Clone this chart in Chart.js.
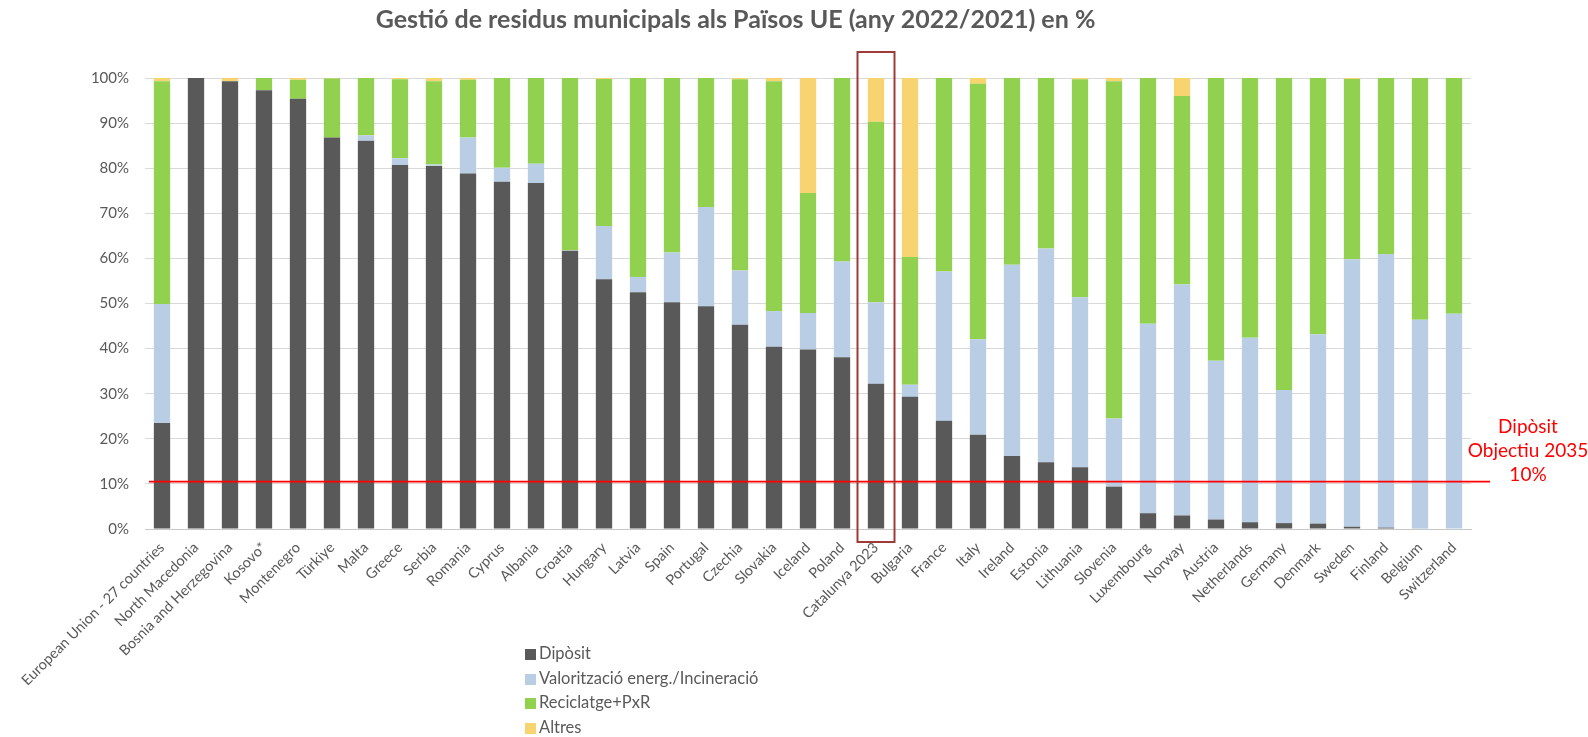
<!DOCTYPE html>
<html>
<head>
<meta charset="utf-8">
<title>Gestió de residus municipals</title>
<script src="https://cdn.jsdelivr.net/npm/chart.js@4.4.1/dist/chart.umd.min.js"></script>
<style>
  html, body { margin: 0; padding: 0; background: #fff; }
  #wrap { position: relative; width: 1588px; height: 737px; }
  #legend { position: absolute; left: 525px; top: 641px; font-family: Lato, "Open Sans", sans-serif; font-size: 16.5px; color: #595959; }
  #legend div { height: 24.6px; line-height: 24.6px; white-space: nowrap; }
  #legend span { display: inline-block; width: 11px; height: 11px; margin-right: 3px; vertical-align: -1px; }
</style>
</head>
<body>
<div id="wrap">
  <canvas id="chart" width="1588" height="737"></canvas>
  <div id="legend"></div>
</div>
<script>
  // Country / region labels, in chart order
  var countries = ['European Union - 27 countries', 'North Macedonia', 'Bosnia and Herzegovina', 'Kosovo*', 'Montenegro',
    'Türkiye', 'Malta', 'Greece', 'Serbia', 'Romania', 'Cyprus', 'Albania', 'Croatia', 'Hungary', 'Latvia', 'Spain',
    'Portugal', 'Czechia', 'Slovakia', 'Iceland', 'Poland', 'Catalunya 2023', 'Bulgaria', 'France', 'Italy', 'Ireland',
    'Estonia', 'Lithuania', 'Slovenia', 'Luxembourg', 'Norway', 'Austria', 'Netherlands', 'Germany', 'Denmark',
    'Sweden', 'Finland', 'Belgium', 'Switzerland'];

  // Shares in %
  var diposit = [23.5, 100, 99.3, 97.3, 95.4, 86.8, 86.1, 80.7, 80.5, 78.8, 77.0, 76.7, 61.7, 55.4, 52.5, 50.3,
    49.4, 45.3, 40.4, 39.8, 38.1, 32.2, 29.3, 24.0, 20.9, 16.2, 14.8, 13.7, 9.4, 3.5, 3.0, 2.1, 1.5, 1.3, 1.2,
    0.5, 0.3, 0.1, 0];
  var valoritzacio = [26.4, 0, 0, 0, 0, 0, 1.2, 1.5, 0.3, 8.0, 3.1, 4.3, 0.1, 11.8, 3.4, 11.0,
    22.0, 12.0, 7.9, 8.1, 21.2, 18.1, 2.7, 33.1, 21.2, 42.4, 47.4, 37.7, 15.1, 42.0, 51.2, 35.2, 40.9, 29.5, 42.0,
    59.3, 60.7, 46.3, 47.7];
  var reciclatge = [49.4, 0, 0, 2.7, 4.2, 13.1, 12.7, 17.5, 18.5, 12.8, 19.9, 19.0, 38.2, 32.6, 44.1, 38.7,
    28.6, 42.4, 51.0, 26.6, 40.7, 40.0, 28.3, 42.9, 56.6, 41.4, 37.8, 48.3, 74.8, 54.5, 41.8, 62.7, 57.6, 69.2, 56.8,
    40.0, 39.0, 53.6, 52.3];
  var altres = [0.7, 0, 0.7, 0, 0.4, 0.1, 0, 0.3, 0.7, 0.4, 0, 0, 0, 0.2, 0, 0,
    0, 0.3, 0.7, 25.5, 0, 9.7, 39.7, 0, 1.3, 0, 0, 0.3, 0.7, 0, 4.0, 0, 0, 0, 0,
    0.2, 0, 0, 0];

  var yTicks = [0, 10, 20, 30, 40, 50, 60, 70, 80, 90, 100];
  var TARGET = 10.5;                 // Dipòsit target 2035 (10%) line
  var HIGHLIGHT = 'Catalunya 2023';
  var targetText = ['Dipòsit', 'Objectiu 2035', '10%'];

  var FONT = 'Lato, "Open Sans", sans-serif';
  var GREY = '#595959';

  var series = [
    { label: 'Dipòsit', data: diposit, color: '#595959' },
    { label: 'Valorització energ./Incineració', data: valoritzacio, color: '#b9cde4' },
    { label: 'Reciclatge+PxR', data: reciclatge, color: '#92d050' },
    { label: 'Altres', data: altres, color: '#f7d470' }
  ];

  // target line + annotation + highlight box
  var overlay = {
    id: 'overlay',
    afterDatasetsDraw: function (chart) {
      var ctx = chart.ctx, a = chart.chartArea, x = chart.scales.x, y = chart.scales.y;
      var ty = y.getPixelForValue(TARGET);
      ctx.save();
      ctx.strokeStyle = '#ff0000';
      ctx.lineWidth = 1.6;
      ctx.beginPath();
      ctx.moveTo(a.left + 4, ty);
      ctx.lineTo(a.right + 19, ty);
      ctx.stroke();

      ctx.fillStyle = '#ff0000';
      ctx.font = '19px ' + FONT;
      ctx.textAlign = 'center';
      ctx.textBaseline = 'middle';
      targetText.forEach(function (t, i) {
        ctx.fillText(t, a.right + 57, ty - 55 + i * 24);
      });

      var cx = x.getPixelForValue(countries.indexOf(HIGHLIGHT));
      ctx.strokeStyle = '#9e3a38';
      ctx.lineWidth = 2;
      ctx.strokeRect(cx - 18.5, a.top - 26, 37, a.bottom - a.top + 39);
      ctx.restore();
    }
  };

  new Chart(document.getElementById('chart'), {
    type: 'bar',
    data: {
      labels: countries,
      datasets: series.map(function (s) {
        return { label: s.label, data: s.data, backgroundColor: s.color, borderWidth: 0,
          barPercentage: 0.48, categoryPercentage: 1 };
      })
    },
    plugins: [overlay],
    options: {
      responsive: false,
      animation: false,
      layout: { padding: { left: 0, right: 117, top: 0, bottom: 0 } },
      plugins: {
        legend: { display: false },
        tooltip: { enabled: false },
        title: {
          display: true,
          text: 'Gestió de residus municipals als Països UE (any 2022/2021) en %',
          color: GREY,
          font: { family: FONT, size: 25, weight: 'bold' },
          padding: { top: 5, bottom: 43 }
        }
      },
      scales: {
        x: {
          stacked: true,
          grid: { display: false },
          border: { color: '#c8c8c8' },
          ticks: { color: GREY, font: { family: FONT, size: 14.5 }, minRotation: 45, maxRotation: 45, autoSkip: false, padding: 2 },
          afterFit: function (s) { s.height = 208; }
        },
        y: {
          stacked: true,
          min: 0, max: 100,
          afterBuildTicks: function (s) { s.ticks = yTicks.map(function (v) { return { value: v }; }); },
          grid: { color: '#d9d9d9', drawTicks: false },
          border: { display: false },
          ticks: { color: GREY, font: { family: FONT, size: 15 }, padding: 16,
            callback: function (v) { return v + '%'; } },
          afterFit: function (s) { s.width = 145; }
        }
      }
    }
  });

  document.getElementById('legend').innerHTML = series.map(function (s) {
    return '<div><span style="background:' + s.color + '"></span>' + s.label + '</div>';
  }).join('');
</script>
</body>
</html>
